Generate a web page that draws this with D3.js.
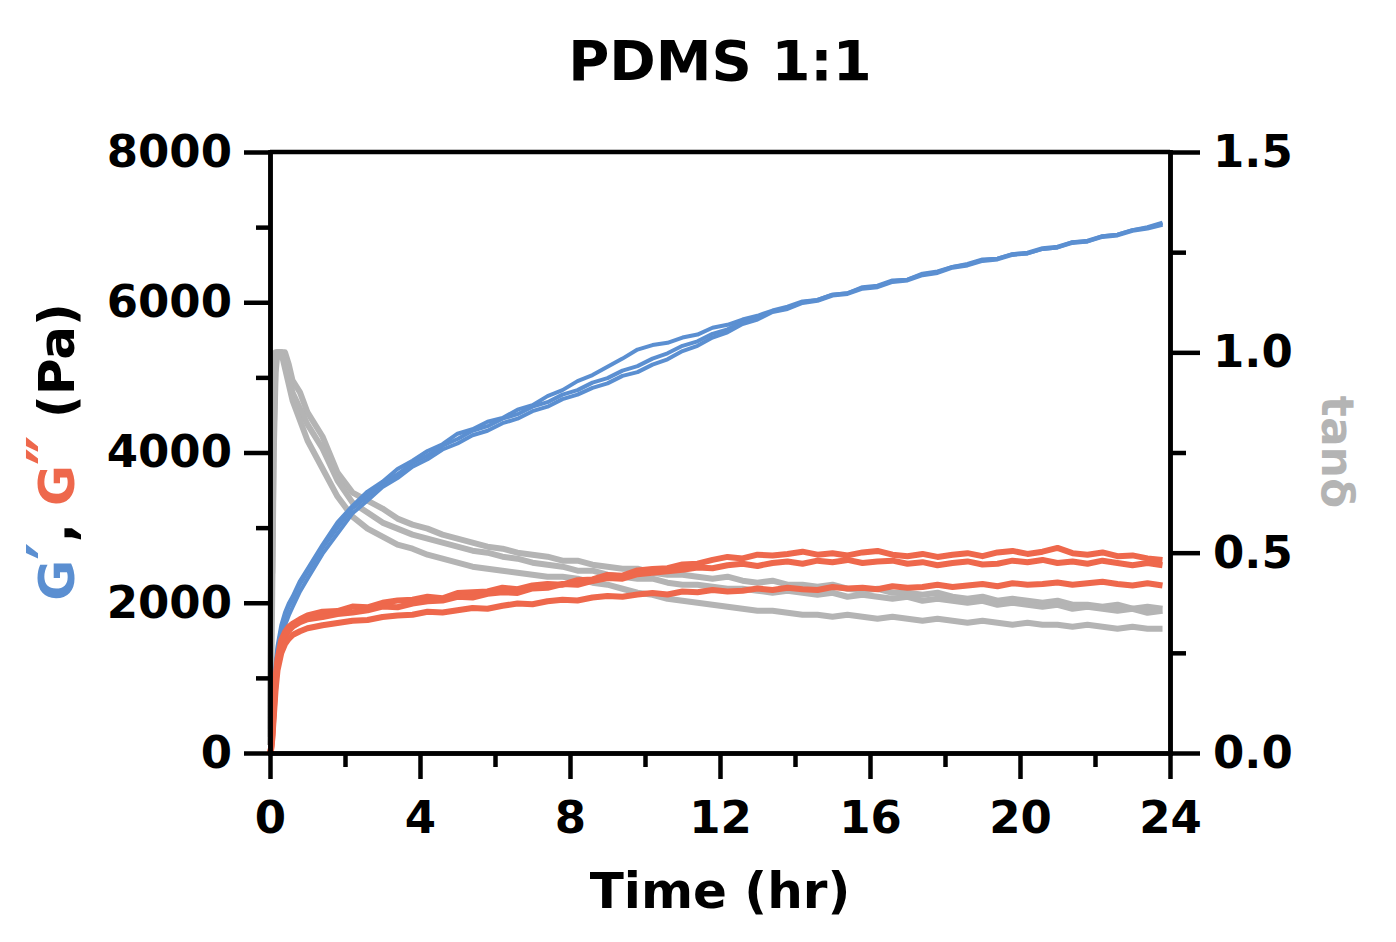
<!DOCTYPE html>
<html>
<head>
<meta charset="utf-8">
<script src="https://cdn.jsdelivr.net/npm/d3@7"></script>
<style>
  body { margin: 0; background: #fff; }
  svg { display: block; font-family: "DejaVu Sans", Verdana, sans-serif; font-weight: bold; }
  .axis path, .axis line { stroke: #000; stroke-width: 4.5; }
  .axis path { stroke-linecap: square; }
  .axis text { font-size: 45px; font-weight: bold; fill: #000; font-family: "DejaVu Sans", Verdana, sans-serif; }
  .series { fill: none; stroke-linejoin: round; }
</style>
</head>
<body>
<div id="chart"></div>
<script>
// Sample times (hr)
const times = [0, 0.03, 0.06, 0.1, 0.15, 0.2, 0.3, 0.4, 0.5, 0.6, 0.8, 1.0,
  1.4, 1.8, 2.2, 2.6, 3.0, 3.4, 3.8, 4.2, 4.6, 5.0, 5.4, 5.8, 6.2, 6.6, 7.0, 7.4, 7.8,
  8.2, 8.6, 9.0, 9.4, 9.8, 10.2, 10.6, 11.0, 11.4, 11.8, 12.2, 12.6, 13.0, 13.4, 13.8,
  14.2, 14.6, 15.0, 15.4, 15.8, 16.2, 16.6, 17.0, 17.4, 17.8, 18.2, 18.6, 19.0, 19.4,
  19.8, 20.2, 20.6, 21.0, 21.4, 21.8, 22.2, 22.6, 23.0, 23.4, 23.8];

// G' (Pa), three replicates
const storage1 = [0, 120, 420, 820, 1180, 1420, 1700, 1870, 1990, 2080, 2290, 2450,
  2770, 3070, 3290, 3480, 3610, 3780, 3890, 4020, 4110, 4250, 4310, 4410, 4460, 4570, 4630,
  4750, 4830, 4950, 5030, 5140, 5250, 5370, 5430, 5460, 5530, 5570, 5660, 5700, 5770, 5820,
  5890, 5940, 6010, 6030, 6100, 6120, 6200, 6220, 6290, 6300, 6380, 6410, 6470, 6510, 6570,
  6580, 6640, 6650, 6710, 6730, 6800, 6810, 6880, 6900, 6960, 7000, 7060];
const storage2 = [0, 90, 360, 760, 1120, 1370, 1650, 1820, 1950, 2050, 2250, 2410,
  2730, 3000, 3260, 3420, 3590, 3710, 3860, 3960, 4090, 4180, 4290, 4350, 4450, 4510, 4610,
  4670, 4770, 4830, 4930, 4990, 5090, 5150, 5250, 5320, 5420, 5480, 5580, 5640, 5740, 5790,
  5880, 5920, 6000, 6030, 6100, 6120, 6190, 6210, 6280, 6300, 6370, 6400, 6470, 6500, 6560,
  6580, 6640, 6660, 6720, 6740, 6800, 6820, 6880, 6900, 6960, 6990, 7050];
const storage3 = [0, 60, 280, 650, 1000, 1250, 1520, 1700, 1830, 1940, 2150, 2320,
  2650, 2920, 3190, 3360, 3540, 3660, 3810, 3910, 4040, 4120, 4230, 4290, 4390, 4450, 4550,
  4610, 4710, 4770, 4860, 4920, 5020, 5070, 5170, 5240, 5350, 5420, 5530, 5600, 5710, 5770,
  5870, 5910, 5990, 6020, 6090, 6110, 6180, 6200, 6270, 6290, 6360, 6390, 6460, 6490, 6550,
  6570, 6630, 6650, 6710, 6730, 6790, 6810, 6870, 6890, 6950, 6980, 7030];

// G'' (Pa), three replicates
const loss1 = [0, 80, 260, 620, 1000, 1250, 1500, 1610, 1680, 1720, 1780, 1830,
  1880, 1890, 1950, 1940, 2000, 2030, 2040, 2080, 2060, 2130, 2140, 2150, 2200, 2180, 2230,
  2250, 2240, 2300, 2310, 2370, 2360, 2430, 2450, 2460, 2510, 2520, 2570, 2610, 2590, 2640,
  2630, 2650, 2680, 2640, 2660, 2630, 2670, 2690, 2640, 2620, 2650, 2610, 2640, 2660, 2620,
  2670, 2690, 2650, 2680, 2730, 2660, 2640, 2670, 2620, 2630, 2590, 2570];
const loss2 = [0, 60, 220, 560, 950, 1200, 1430, 1560, 1630, 1680, 1740, 1780,
  1810, 1850, 1870, 1900, 1950, 1940, 1990, 2020, 2030, 2080, 2070, 2120, 2140, 2130, 2190,
  2200, 2250, 2240, 2290, 2330, 2320, 2380, 2400, 2420, 2440, 2470, 2460, 2500, 2520, 2490,
  2530, 2550, 2520, 2560, 2540, 2570, 2530, 2550, 2560, 2520, 2540, 2500, 2530, 2550, 2510,
  2520, 2560, 2540, 2570, 2530, 2550, 2520, 2560, 2530, 2500, 2530, 2500];
const loss3 = [0, 40, 180, 480, 850, 1100, 1330, 1450, 1520, 1570, 1620, 1660,
  1700, 1730, 1760, 1770, 1810, 1830, 1840, 1880, 1870, 1900, 1930, 1920, 1960, 1990, 1980,
  2020, 2040, 2030, 2070, 2090, 2080, 2110, 2130, 2110, 2150, 2140, 2170, 2150, 2160, 2190,
  2170, 2200, 2180, 2170, 2210, 2190, 2200, 2180, 2220, 2200, 2210, 2240, 2210, 2230, 2250,
  2220, 2260, 2240, 2250, 2270, 2240, 2260, 2280, 2250, 2230, 2260, 2230];

// tan delta, three replicates
const tanDelta1 = [0.06, 0.62, 0.45, 0.80, 0.98, 1.00, 1.00, 1.00, 0.97, 0.93, 0.90, 0.85,
  0.79, 0.70, 0.65, 0.63, 0.61, 0.585, 0.57, 0.56, 0.545, 0.535, 0.525, 0.515, 0.51, 0.50, 0.495,
  0.49, 0.48, 0.48, 0.47, 0.465, 0.46, 0.46, 0.45, 0.445, 0.445, 0.44, 0.435, 0.44, 0.43, 0.425,
  0.43, 0.42, 0.42, 0.415, 0.42, 0.41, 0.405, 0.41, 0.40, 0.40, 0.395, 0.40, 0.39, 0.385, 0.39,
  0.38, 0.385, 0.38, 0.375, 0.38, 0.37, 0.37, 0.365, 0.37, 0.36, 0.365, 0.36];
const tanDelta2 = [0.04, 0.30, 0.65, 0.90, 1.00, 1.00, 1.00, 0.98, 0.94, 0.90, 0.86, 0.82,
  0.76, 0.68, 0.625, 0.60, 0.575, 0.56, 0.545, 0.535, 0.525, 0.515, 0.505, 0.50, 0.49, 0.485, 0.475,
  0.47, 0.465, 0.455, 0.455, 0.445, 0.44, 0.435, 0.435, 0.425, 0.42, 0.42, 0.415, 0.41, 0.41, 0.405,
  0.40, 0.405, 0.40, 0.395, 0.40, 0.39, 0.395, 0.39, 0.385, 0.39, 0.38, 0.385, 0.38, 0.375, 0.38,
  0.37, 0.375, 0.37, 0.365, 0.37, 0.36, 0.365, 0.36, 0.355, 0.36, 0.35, 0.355];
const tanDelta3 = [0.02, 0.15, 0.40, 0.75, 0.95, 1.00, 1.00, 0.96, 0.92, 0.88, 0.83, 0.78,
  0.71, 0.64, 0.59, 0.56, 0.54, 0.52, 0.51, 0.495, 0.485, 0.475, 0.465, 0.46, 0.455, 0.45, 0.445,
  0.44, 0.44, 0.435, 0.425, 0.42, 0.41, 0.40, 0.395, 0.385, 0.38, 0.375, 0.37, 0.365, 0.36, 0.355,
  0.355, 0.35, 0.345, 0.345, 0.34, 0.345, 0.34, 0.335, 0.34, 0.335, 0.33, 0.335, 0.33, 0.325, 0.33,
  0.325, 0.32, 0.325, 0.32, 0.32, 0.315, 0.32, 0.315, 0.31, 0.315, 0.31, 0.31];

// Axis ticks
const timeTicks = [0, 4, 8, 12, 16, 20, 24];
const timeMinorTicks = [2, 6, 10, 14, 18, 22];
const modulusTicks = [0, 2000, 4000, 6000, 8000];
const modulusMinorTicks = [1000, 3000, 5000, 7000];
const tanTicks = [0, 0.5, 1.0, 1.5];
const tanMinorTicks = [0.25, 0.75, 1.25];

const colors = { storage: "#5b8fd1", loss: "#ee684c", tan: "#b4b4b4" };

class RheologyChart {
  constructor(wrapper) {
    this.wrapper = wrapper;
    this.init();
    this.render();
  }

  init() {
    this.width = 1396;
    this.height = 942;
    this.margin = { top: 152, right: 226, bottom: 189, left: 270 };

    this.x = d3.scaleLinear()
      .domain([0, 24])
      .range([this.margin.left, this.width - this.margin.right]);
    this.yLeft = d3.scaleLinear()
      .domain([0, 8000])
      .range([this.height - this.margin.bottom, this.margin.top]);
    this.yRight = d3.scaleLinear()
      .domain([0, 1.5])
      .range([this.height - this.margin.bottom, this.margin.top]);

    this.svg = this.wrapper.append("svg")
      .attr("width", this.width)
      .attr("height", this.height);

    // tan delta under the moduli
    this.series = [
      { values: tanDelta1, y: this.yRight, color: colors.tan, w: 6 },
      { values: tanDelta2, y: this.yRight, color: colors.tan, w: 6 },
      { values: tanDelta3, y: this.yRight, color: colors.tan, w: 6 },
      { values: storage1, y: this.yLeft, color: colors.storage, w: 4 },
      { values: storage2, y: this.yLeft, color: colors.storage, w: 4 },
      { values: storage3, y: this.yLeft, color: colors.storage, w: 4 },
      { values: loss1, y: this.yLeft, color: colors.loss, w: 6 },
      { values: loss2, y: this.yLeft, color: colors.loss, w: 6 },
      { values: loss3, y: this.yLeft, color: colors.loss, w: 6 },
    ];
  }

  render() {
    const x = this.x;
    const xBottom = this.height - this.margin.bottom;
    const xRight = this.width - this.margin.right;

    // Lines
    this.svg.append("g").attr("class", "lines")
      .selectAll("path")
      .data(this.series)
      .join("path")
      .attr("class", "series")
      .attr("stroke", (d) => d.color)
      .attr("stroke-width", (d) => d.w)
      .attr("d", (d) => d3.line()
        .x((v, i) => x(times[i]))
        .y((v) => d.y(v))(d.values));

    // Minor ticks
    this.svg.append("g").attr("class", "axis")
      .attr("transform", `translate(0,${xBottom})`)
      .call(d3.axisBottom(x).tickValues(timeMinorTicks).tickSize(14).tickSizeOuter(0).tickFormat(""));
    this.svg.append("g").attr("class", "axis")
      .attr("transform", `translate(${this.margin.left},0)`)
      .call(d3.axisLeft(this.yLeft).tickValues(modulusMinorTicks).tickSize(14).tickSizeOuter(0).tickFormat(""));
    this.svg.append("g").attr("class", "axis")
      .attr("transform", `translate(${xRight},0)`)
      .call(d3.axisRight(this.yRight).tickValues(tanMinorTicks).tickSize(16).tickSizeOuter(0).tickFormat(""));

    // Major ticks
    this.svg.append("g").attr("class", "axis")
      .attr("transform", `translate(0,${xBottom})`)
      .call(d3.axisBottom(x).tickValues(timeTicks).tickSize(26).tickSizeOuter(0).tickPadding(22).tickFormat(d3.format("d")));
    this.svg.append("g").attr("class", "axis")
      .attr("transform", `translate(${this.margin.left},0)`)
      .call(d3.axisLeft(this.yLeft).tickValues(modulusTicks).tickSize(26).tickSizeOuter(0).tickPadding(12).tickFormat(d3.format("d")));
    this.svg.append("g").attr("class", "axis")
      .attr("transform", `translate(${xRight},0)`)
      .call(d3.axisRight(this.yRight).tickValues(tanTicks).tickSize(30).tickSizeOuter(0).tickPadding(13).tickFormat(d3.format(".1f")));

    // Top frame
    this.svg.append("line")
      .attr("x1", x(0)).attr("x2", x(24))
      .attr("y1", this.margin.top).attr("y2", this.margin.top)
      .attr("stroke", "#000").attr("stroke-width", 4.5);

    // Title
    this.svg.append("text")
      .attr("x", 720).attr("y", 80)
      .attr("text-anchor", "middle")
      .attr("font-size", 56)
      .text("PDMS 1:1");

    // X title
    this.svg.append("text")
      .attr("x", 720).attr("y", 908)
      .attr("text-anchor", "middle")
      .attr("font-size", 50)
      .text("Time (hr)");

    // Left title
    const left = this.svg.append("text")
      .attr("transform", "translate(74,452) rotate(-90)")
      .attr("text-anchor", "middle")
      .attr("font-size", 50);
    left.append("tspan").attr("fill", colors.storage).text("G");
    left.append("tspan").attr("fill", colors.storage).attr("font-size", 66).text("\u2032");
    left.append("tspan").attr("fill", "#000").text(", ");
    left.append("tspan").attr("fill", colors.loss).text("G");
    left.append("tspan").attr("fill", colors.loss).attr("font-size", 66).text("\u2033");
    left.append("tspan").attr("fill", "#000").text(" (Pa)");

    // Right title
    this.svg.append("text")
      .attr("transform", "translate(1322,452) rotate(90)")
      .attr("text-anchor", "middle")
      .attr("font-size", 44)
      .attr("fill", colors.tan)
      .text("tan\u03b4");
  }
}

new RheologyChart(d3.select("#chart"));
</script>
</body>
</html>
